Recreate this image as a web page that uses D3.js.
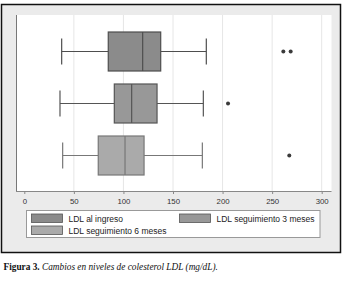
<!DOCTYPE html>
<html>
<head>
<meta charset="utf-8">
<script src="https://cdn.jsdelivr.net/npm/d3@7"></script>
<style>
  body { margin: 0; background: #fff; }
  svg { display: block; }
  .tick text { font-family: "Liberation Sans", Arial, sans-serif; font-size: 7.8px; fill: #333; }
</style>
</head>
<body>
<svg width="344" height="283"></svg>
<script>
const groups = ['LDL al ingreso', 'LDL seguimiento 3 meses', 'LDL seguimiento 6 meses'];
const lowWhisker = [37.7, 36, 38.7];
const q1 = [84.7, 90.8, 74.6];
const median = [119.4, 108.3, 101.6];
const q3 = [137.6, 133.9, 120.8];
const highWhisker = [183.6, 180.6, 179.6];
const outliers = [[261.3, 268.7], [205.5], [267.3]];
const xTicks = [0, 50, 100, 150, 200, 250, 300];

const fills = ['#8b8b8b', '#989898', '#aaaaaa'];
const strokes = ['#4e4e4e', '#555555', '#777777'];

const svg = d3.select('svg');

// outer frame
svg.append('rect')
  .attr('x', 1.5).attr('y', 4.5)
  .attr('width', 339).attr('height', 248)
  .attr('fill', '#ebebeb')
  .attr('stroke', '#111').attr('stroke-width', 1.5);

const plot = {left: 16, top: 15, right: 331.5, bottom: 191};

svg.append('rect')
  .attr('x', plot.left).attr('y', plot.top)
  .attr('width', plot.right - plot.left).attr('height', plot.bottom - plot.top)
  .attr('fill', '#fff');

const xScale = d3.scaleLinear().domain([0, 300]).range([24.3, 321.7]);
const yScale = d3.scalePoint().domain(groups).range([51.5, 155.5]);
const boxH = 39;
const capH = 26;

// gridlines
svg.append('g').selectAll('line')
  .data(xTicks.filter(d => d > 0))
  .join('line')
  .attr('x1', d => xScale(d)).attr('x2', d => xScale(d))
  .attr('y1', plot.top).attr('y2', plot.bottom)
  .attr('stroke', '#e6e6e6').attr('stroke-width', 1);

// left axis line
svg.append('line')
  .attr('x1', plot.left + 0.5).attr('x2', plot.left + 0.5)
  .attr('y1', plot.top).attr('y2', plot.bottom)
  .attr('stroke', '#777');

// x axis
const xAxis = d3.axisBottom(xScale)
  .tickValues(xTicks)
  .tickSize(3)
  .tickPadding(4)
  .tickSizeOuter(0);

const xAxisG = svg.append('g')
  .attr('transform', `translate(0,${plot.bottom})`)
  .call(xAxis);
xAxisG.select('.domain')
  .attr('d', `M${plot.left},0.5H${plot.right}`)
  .attr('stroke', '#888');
xAxisG.selectAll('.tick line').attr('stroke', '#888');

// boxes
const boxes = svg.append('g').selectAll('g')
  .data(groups)
  .join('g')
  .attr('transform', d => `translate(0,${yScale(d)})`);

boxes.each(function(d, i) {
  const g = d3.select(this);
  const col = strokes[i];
  g.append('line')
    .attr('x1', xScale(lowWhisker[i])).attr('x2', xScale(q1[i]))
    .attr('y1', 0).attr('y2', 0)
    .attr('stroke', col).attr('stroke-width', 1.2);
  g.append('line')
    .attr('x1', xScale(q3[i])).attr('x2', xScale(highWhisker[i]))
    .attr('y1', 0).attr('y2', 0)
    .attr('stroke', col).attr('stroke-width', 1.2);
  [lowWhisker[i], highWhisker[i]].forEach(v => {
    g.append('line')
      .attr('x1', xScale(v)).attr('x2', xScale(v))
      .attr('y1', -capH / 2).attr('y2', capH / 2)
      .attr('stroke', col).attr('stroke-width', 1.2);
  });
  g.append('rect')
    .attr('x', xScale(q1[i])).attr('y', -boxH / 2)
    .attr('width', xScale(q3[i]) - xScale(q1[i])).attr('height', boxH)
    .attr('fill', fills[i])
    .attr('stroke', col).attr('stroke-width', 1.2);
  g.append('line')
    .attr('x1', xScale(median[i])).attr('x2', xScale(median[i]))
    .attr('y1', -boxH / 2).attr('y2', boxH / 2)
    .attr('stroke', col).attr('stroke-width', 1.2);
  g.selectAll('circle')
    .data(outliers[i])
    .join('circle')
    .attr('cx', v => xScale(v)).attr('cy', 0)
    .attr('r', 2)
    .attr('fill', '#3a3a3a');
});

// legend
svg.append('rect')
  .attr('x', 26.5).attr('y', 210.5)
  .attr('width', 293.5).attr('height', 27)
  .attr('fill', '#fff')
  .attr('stroke', '#999');

const legendPos = [[31.5, 214], [179.5, 214], [31.5, 226]];
const legend = svg.append('g').selectAll('g')
  .data(groups)
  .join('g')
  .attr('transform', (d, i) => `translate(${legendPos[i][0]},${legendPos[i][1]})`);

legend.append('rect')
  .attr('width', 31).attr('height', 8.5)
  .attr('fill', (d, i) => fills[i])
  .attr('stroke', '#555').attr('stroke-width', 0.8);

legend.append('text')
  .attr('x', 37).attr('y', 7.5)
  .attr('font-family', '"Liberation Sans", Arial, sans-serif')
  .attr('font-size', '8.5px')
  .attr('fill', '#222')
  .text(d => d);

// caption
const caption = svg.append('text')
  .attr('x', 3.5).attr('y', 270)
  .attr('font-family', '"Liberation Serif", "Times New Roman", serif')
  .attr('font-size', '9.3px')
  .attr('fill', '#111');
caption.append('tspan').attr('font-weight', 'bold').text('Figura 3. ');
caption.append('tspan').attr('font-style', 'italic').text('Cambios en niveles de colesterol LDL (mg/dL).');
</script>
</body>
</html>
